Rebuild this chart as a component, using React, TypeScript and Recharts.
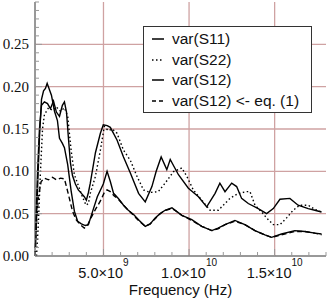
import React from 'react';
import { LineChart, Line, XAxis, YAxis, CartesianGrid, Legend } from 'recharts';

// frequency in GHz, variance values
const s11Freq = [1.03, 1.15, 1.26, 1.38, 1.55, 1.73, 1.9, 2.08, 2.25, 2.43, 2.6, 2.72, 2.84, 2.95, 3.07, 3.19, 3.36, 3.53, 3.71, 3.88, 4.0, 4.12, 4.23, 4.53, 4.82, 4.99, 5.22, 5.4, 5.79, 6.17, 6.57, 7.05, 7.44, 7.83, 8.08, 8.37, 8.7, 8.9, 9.38, 9.96, 10.55, 11.03, 11.52, 11.8, 12.1, 12.49, 12.78, 13.07, 13.46, 14.04, 14.53, 14.92, 15.31, 15.89, 16.37, 16.96, 17.35, 17.74];
const s11Var = [0.03, 0.1, 0.15, 0.178, 0.182, 0.18, 0.174, 0.183, 0.17, 0.165, 0.178, 0.182, 0.17, 0.14, 0.11, 0.095, 0.085, 0.078, 0.074, 0.07, 0.066, 0.075, 0.086, 0.122, 0.145, 0.155, 0.154, 0.152, 0.137, 0.117, 0.098, 0.074, 0.064, 0.082, 0.1, 0.117, 0.102, 0.114, 0.096, 0.08, 0.07, 0.058, 0.074, 0.086, 0.076, 0.086, 0.082, 0.068, 0.062, 0.056, 0.05, 0.056, 0.067, 0.068, 0.06, 0.056, 0.054, 0.052];

const s22Freq = [1.09, 1.2, 1.32, 1.44, 1.55, 1.79, 2.02, 2.25, 2.49, 2.72, 2.91, 3.11, 3.3, 3.59, 3.77, 3.98, 4.12, 4.23, 4.53, 4.82, 5.05, 5.28, 5.52, 5.79, 6.17, 6.57, 6.96, 7.34, 7.73, 8.2, 8.6, 9.09, 9.58, 9.87, 10.25, 10.74, 11.23, 11.71, 12.0, 12.39, 12.88, 13.37, 13.56, 13.85, 14.24, 14.53, 14.92, 15.31, 15.7, 16.08, 16.47, 16.96, 17.35, 17.74];
const s22Var = [0.0, 0.04, 0.1, 0.15, 0.167, 0.175, 0.172, 0.176, 0.171, 0.175, 0.165, 0.125, 0.096, 0.08, 0.07, 0.06, 0.062, 0.074, 0.094, 0.125, 0.153, 0.148, 0.15, 0.145, 0.125, 0.113, 0.094, 0.078, 0.075, 0.076, 0.086, 0.0996, 0.104, 0.094, 0.078, 0.066, 0.054, 0.054, 0.06, 0.068, 0.074, 0.076, 0.076, 0.06, 0.052, 0.045, 0.037, 0.037, 0.045, 0.054, 0.06, 0.06, 0.055, 0.052];

const s12Freq = [1.03, 1.15, 1.26, 1.38, 1.5, 1.61, 1.71, 1.85, 1.96, 2.14, 2.31, 2.43, 2.6, 2.72, 2.91, 3.11, 3.3, 3.49, 3.71, 3.94, 4.12, 4.37, 4.64, 4.99, 5.21, 5.4, 5.59, 5.87, 6.17, 6.45, 6.76, 7.09, 7.44, 7.73, 8.02, 8.31, 8.6, 9.0, 9.25, 9.58, 10.16, 10.74, 11.33, 11.69, 12.1, 12.68, 13.26, 13.85, 14.43, 14.82, 15.4, 16.18, 16.76, 17.35, 17.74];
const s12Var = [0.01, 0.08, 0.14, 0.185, 0.195, 0.198, 0.204, 0.196, 0.19, 0.171, 0.16, 0.139, 0.133, 0.128, 0.108, 0.077, 0.053, 0.041, 0.038, 0.036, 0.037, 0.053, 0.07, 0.085, 0.1, 0.088, 0.074, 0.068, 0.06, 0.054, 0.049, 0.042, 0.035, 0.038, 0.045, 0.05, 0.054, 0.057, 0.053, 0.048, 0.043, 0.035, 0.03, 0.033, 0.037, 0.042, 0.037, 0.03, 0.025, 0.022, 0.026, 0.03, 0.029, 0.027, 0.026];

const eq1Freq = [1.0, 1.09, 1.2, 1.36, 1.55, 1.79, 2.02, 2.25, 2.49, 2.72, 2.9, 3.19, 3.4, 3.65, 3.88, 4.06, 4.27, 4.53, 4.82, 5.05, 5.21, 5.4, 5.63, 5.87, 6.17, 6.45, 6.76, 7.09, 7.44, 7.73, 8.02, 8.31, 8.6, 9.0, 9.25, 9.58, 10.16, 10.74, 11.33, 11.69, 12.1, 12.68, 13.26, 13.85, 14.43, 14.82, 15.4, 16.18, 16.76, 17.35, 17.74];
const eq1Var = [0.0, 0.04, 0.07, 0.088, 0.092, 0.09, 0.093, 0.09, 0.092, 0.091, 0.077, 0.053, 0.043, 0.037, 0.033, 0.036, 0.045, 0.055, 0.065, 0.075, 0.078, 0.076, 0.071, 0.067, 0.06, 0.054, 0.048, 0.041, 0.035, 0.038, 0.044, 0.05, 0.054, 0.056, 0.053, 0.048, 0.042, 0.035, 0.03, 0.032, 0.037, 0.041, 0.037, 0.03, 0.025, 0.022, 0.025, 0.029, 0.029, 0.027, 0.025];

const xTicks = [1, 2, 3, 4, 5, 6, 7, 8, 9, 10, 11, 12, 13, 14, 15, 16, 17, 18];
const xMajor = [5, 10, 15];
const yTicks = [0, 0.01, 0.02, 0.03, 0.04, 0.05, 0.06, 0.07, 0.08, 0.09, 0.1, 0.11, 0.12, 0.13, 0.14, 0.15, 0.16, 0.17, 0.18, 0.19, 0.2, 0.21, 0.22, 0.23, 0.24, 0.25, 0.26, 0.27, 0.28, 0.29, 0.3];
const yMajor = [0, 0.05, 0.1, 0.15, 0.2, 0.25];

const toPoints = (freq: number[], vals: number[]) => freq.map((f, i) => ({ f, v: vals[i] }));

const series = [
  { name: 'var(S11)', data: toPoints(s11Freq, s11Var), dash: undefined },
  { name: 'var(S22)', data: toPoints(s22Freq, s22Var), dash: '1.5 2.5' },
  { name: 'var(S12)', data: toPoints(s12Freq, s12Var), dash: undefined },
  { name: 'var(S12) <- eq. (1)', data: toPoints(eq1Freq, eq1Var), dash: '5 3' },
];

const TICK = '#999';
const FRAME = '#333';
const GRID = '#cfa2a2';
const sans = '"Liberation Sans", Arial, sans-serif';
const serif = '"Liberation Serif", "Times New Roman", serif';

const isMajorY = (v: number) => yMajor.some((m) => Math.abs(m - v) < 1e-6);

const fmtHz = (ghz: number) => {
  const hz = ghz * 1e9;
  const exp = Math.floor(Math.log10(hz));
  return { mant: (hz / Math.pow(10, exp)).toFixed(1), exp: String(exp) };
};

const BottomTick = (props: any) => {
  const { x, y, payload } = props;
  const major = xMajor.includes(payload.value);
  const { mant, exp } = fmtHz(payload.value);
  return (
    <g>
      <line x1={x} x2={x} y1={y} y2={y - (major ? 7 : 4)} stroke={TICK} />
      {major && (
        <text x={x} y={y + 22} textAnchor="middle" fontFamily={sans} fontSize={14.5} fill="#111">
          <tspan>{mant}×10</tspan>
          <tspan dy={-12} fontSize={10}>{exp}</tspan>
        </text>
      )}
    </g>
  );
};

const TopTick = (props: any) => {
  const { x, y, payload } = props;
  const major = xMajor.includes(payload.value);
  return <line x1={x} x2={x} y1={y} y2={y + (major ? 7 : 4)} stroke={TICK} />;
};

const LeftTick = (props: any) => {
  const { x, y, payload } = props;
  const major = isMajorY(payload.value);
  return (
    <g>
      <line x1={x} x2={x + (major ? 7 : 4)} y1={y} y2={y} stroke={TICK} />
      {major && (
        <text x={x - 6} y={y + 5} textAnchor="end" fontFamily={serif} fontSize={15} fill="#111">
          {payload.value.toFixed(2)}
        </text>
      )}
    </g>
  );
};

const RightTick = (props: any) => {
  const { x, y, payload } = props;
  const major = isMajorY(payload.value);
  return <line x1={x} x2={x - (major ? 7 : 4)} y1={y} y2={y} stroke={TICK} />;
};

const LegendBox = () => (
  <div
    style={{
      boxSizing: 'border-box',
      width: 169,
      height: 87,
      background: '#fff',
      border: `1px solid ${FRAME}`,
      paddingTop: 2,
      fontFamily: sans,
      fontSize: 15.5,
      color: '#111',
    }}
  >
    {series.map((s) => (
      <div key={s.name} style={{ display: 'flex', alignItems: 'center', height: 20.5, lineHeight: '20.5px' }}>
        <svg width={12} height={4} style={{ marginLeft: 8, flex: 'none' }}>
          <line x1={0} x2={12} y1={2} y2={2} stroke="#000" strokeWidth={1.5} strokeDasharray={s.dash === '5 3' ? '4 3' : s.dash} />
        </svg>
        <span style={{ marginLeft: 8, whiteSpace: 'nowrap' }}>{s.name}</span>
      </div>
    ))}
  </div>
);

export default function App() {
  return (
    <div style={{ position: 'absolute', left: 0, top: 0 }}>
      <LineChart width={327} height={300} margin={{ top: 2, right: 1, bottom: 0, left: 0 }}>
        <CartesianGrid
          stroke={GRID}
          strokeWidth={1.3}
          horizontalValues={[0.05, 0.1, 0.15, 0.2, 0.25]}
          verticalValues={[5, 10, 15]}
        />
        <XAxis
          dataKey="f"
          type="number"
          domain={[1, 18]}
          ticks={xTicks}
          interval={0}
          height={44}
          tickSize={0}
          tickMargin={0}
          tick={<BottomTick />}
          axisLine={{ stroke: FRAME }}
          label={{ value: 'Frequency (Hz)', position: 'insideBottom', offset: 5, fontFamily: sans, fontSize: 15, fill: '#111' }}
        />
        <XAxis
          xAxisId="top"
          orientation="top"
          type="number"
          domain={[1, 18]}
          ticks={xTicks}
          interval={0}
          height={0}
          tickSize={0}
          tickMargin={0}
          tick={<TopTick />}
          axisLine={{ stroke: FRAME }}
        />
        <YAxis
          type="number"
          domain={[0, 0.3]}
          ticks={yTicks}
          interval={0}
          width={35}
          tickSize={0}
          tickMargin={0}
          tick={<LeftTick />}
          axisLine={{ stroke: FRAME }}
        />
        <YAxis
          yAxisId="right"
          orientation="right"
          type="number"
          domain={[0, 0.3]}
          ticks={yTicks}
          interval={0}
          width={0}
          tickSize={0}
          tickMargin={0}
          tick={<RightTick />}
          axisLine={{ stroke: FRAME }}
        />
        <Legend
          layout="vertical"
          align="center"
          verticalAlign="middle"
          wrapperStyle={{ left: 143, top: 26, width: 169, height: 87 }}
          content={() => <LegendBox />}
        />
        {series.map((s) => (
          <Line
            key={s.name}
            data={s.data}
            dataKey="v"
            name={s.name}
            type="linear"
            stroke="#000"
            strokeWidth={1.4}
            strokeDasharray={s.dash}
            dot={false}
            activeDot={false}
            isAnimationActive={false}
          />
        ))}
      </LineChart>
    </div>
  );
}
